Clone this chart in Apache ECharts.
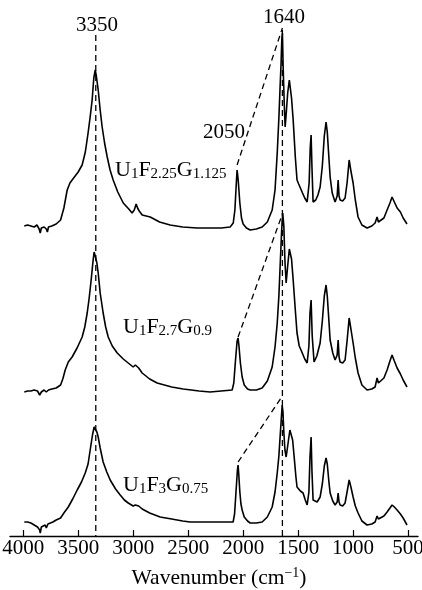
<!DOCTYPE html>
<html><head><meta charset="utf-8">
<script src="https://cdn.jsdelivr.net/npm/echarts@6/dist/echarts.min.js"></script>
<style>html,body{margin:0;padding:0;background:#fff}#c{width:422px;height:590px}</style>
</head><body><div id="c"></div>
<script>
// ---- data (wavenumber cm^-1, relative absorbance) ----
const sampleNames = ['U1F2.25G1.125', 'U1F2.7G0.9', 'U1F3G0.75'];
const sampleOffsets = [308, 145, 14];
const tickValues = [4000, 3500, 3000, 2500, 2000, 1500, 1000, 500];
const peakMarks = [3350, 1640, 2050];

const wn1 = [3990,3960,3930,3900,3875,3855,3845,3835,3810,3790,3780,3770,3740,3700,3660,3630,3600,3575,3555,3500,3464,3435,3410,3390,3373,3358,3345,3335,3318,3300,3282,3260,3236,3210,3182,3140,3090,3040,3010,2990,2973,2960,2945,2918,2845,2760,2664,2550,2418,2300,2200,2118,2090,2075,2062,2055,2045,2030,2015,2000,1970,1936,1880,1827,1780,1736,1710,1690,1675,1664,1655,1648,1643,1636,1625,1618,1608,1595,1580,1573,1560,1545,1525,1510,1495,1482,1460,1440,1418,1400,1390,1382,1374,1364,1340,1320,1300,1280,1262,1246,1235,1220,1209,1190,1164,1145,1136,1128,1118,1095,1073,1055,1036,1020,1000,980,955,920,873,830,800,782,770,755,720,691,665,646,625,600,570,545,510];
const abs1 = [2,3,2,1,3,-1,-5,0,1,-1,-4,1,2,4,8,20,38,45,48,56,63,76,95,112,128,150,158,152,138,118,101,85,71,58,48,36,25,19,15,18,24,20,17,13,11,6,3,1,0,0,0,1,5,18,45,58,48,25,10,4,0,-2,-1,1,6,18,38,75,110,141,165,190,195,160,120,101,115,135,148,146,130,108,70,48,44,45,35,30,26,45,80,93,60,26,28,33,41,62,92,106,96,70,51,35,26,32,48,32,28,27,30,45,68,57,45,28,11,3,0,2,5,11,6,6,10,18,25,31,26,20,16,10,4];

const wn2 = [3990,3960,3930,3900,3870,3850,3845,3835,3810,3790,3780,3770,3740,3700,3660,3640,3618,3590,3555,3510,3464,3440,3418,3400,3382,3365,3355,3345,3330,3318,3300,3273,3250,3227,3190,3145,3090,3045,3000,2980,2964,2950,2918,2850,2782,2650,2545,2400,2300,2200,2100,2085,2070,2055,2046,2038,2025,2009,1990,1960,1936,1880,1827,1780,1736,1710,1690,1675,1664,1650,1640,1630,1620,1609,1595,1580,1573,1560,1545,1525,1510,1490,1470,1455,1440,1418,1402,1392,1382,1372,1355,1330,1300,1280,1262,1246,1235,1220,1209,1185,1164,1145,1136,1128,1118,1095,1073,1055,1036,1020,1000,980,955,920,873,830,800,782,770,755,720,691,665,646,625,600,570,545,510];
const abs2 = [-1,0,0,1,0,-4,-6,-1,1,-1,-3,1,2,3,6,12,21,29,34,43,54,64,78,93,111,130,139,135,128,118,98,78,64,54,45,38,32,28,24,26,28,23,18,12,8,4,2,0,-1,0,1,8,30,50,53,45,28,14,6,2,1,1,3,10,24,44,68,95,124,160,178,165,130,108,125,142,143,132,111,80,58,45,40,38,32,28,45,78,91,55,29,35,48,70,95,106,95,70,51,38,31,36,51,34,29,28,31,50,73,62,48,33,18,6,1,2,4,13,8,8,13,21,30,36,30,23,17,11,4];

const wn3 = [3990,3960,3930,3900,3870,3850,3845,3835,3820,3800,3790,3775,3760,3730,3700,3660,3630,3590,3550,3509,3470,3436,3410,3391,3370,3355,3345,3330,3318,3300,3273,3240,3209,3160,3118,3080,3045,3000,2980,2964,2950,2918,2850,2755,2650,2550,2482,2300,2200,2091,2078,2065,2052,2046,2040,2030,2020,2009,1990,1960,1936,1880,1827,1780,1736,1710,1690,1675,1664,1655,1645,1638,1630,1620,1609,1590,1575,1564,1550,1536,1520,1510,1480,1455,1435,1418,1402,1392,1382,1374,1364,1327,1300,1280,1262,1246,1235,1220,1209,1185,1164,1145,1136,1128,1118,1095,1073,1055,1036,1020,1000,980,955,920,873,830,800,782,770,755,720,691,665,646,625,600,570,545,510];
const abs3 = [0,0,-1,-3,-5,-8,-11,-5,-4,-3,-6,-2,-2,0,2,4,9,15,23,32,40,49,58,72,87,95,93,90,85,74,60,50,42,33,27,22,19,16,17,19,16,13,9,5,3,1,0,0,0,0,8,30,52,57,48,30,18,12,5,1,-1,-1,0,5,15,30,49,66,85,100,117,110,90,72,65,80,92,94,82,65,45,35,31,29,22,17,30,65,85,50,22,20,25,38,56,64,58,40,29,21,17,20,29,20,17,16,19,30,42,35,25,16,9,1,-3,-2,0,6,3,4,6,10,14,17,15,12,8,4,-3];

// dashed guide lines: [wavenumber, absorbance incl. offset]
const guide3350 = [[3340, 501], [3340, 0]];
const guide1640 = [[1643, 506], [1643, 0]];
const guideDiag1 = [[2055, 371], [1643, 508]];
const guideDiag2 = [[2046, 199], [1640, 323]];
const guideDiag3 = [[2046, 74], [1643, 140]];

const traces = [[wn1, abs1], [wn2, abs2], [wn3, abs3]];
const FONT = '"Liberation Serif", "DejaVu Serif", serif';

const chart = echarts.init(document.getElementById('c'), null, {renderer: 'canvas'});
const series = traces.map(([w, a], i) => ({
  type: 'line', name: sampleNames[i], showSymbol: false, symbol: 'none',
  data: w.map((x, k) => [x, a[k] + sampleOffsets[i]]),
  lineStyle: {color: '#000', width: 1.6}, silent: true, z: 3
}));
[guide3350, guide1640, guideDiag1, guideDiag2, guideDiag3].forEach(g => {
  series.push({type: 'line', data: g, showSymbol: false, symbol: 'none', silent: true, z: 2,
    lineStyle: {color: '#000', width: 1.3, type: [6, 4]}});
});

function sampleRich(name) {
  const m = name.match(/^U(\d+)F([\d.]+)G([\d.]+)$/);
  return '{b|U}{s|' + m[1] + '}{b|F}{s|' + m[2] + '}{b|G}{s|' + m[3] + '}';
}
const richStyle = {
  b: {fontSize: 22, fontFamily: FONT, fill: '#000', lineHeight: 24, verticalAlign: 'middle'},
  s: {fontSize: 15, fontFamily: FONT, fill: '#000', lineHeight: 14, verticalAlign: 'bottom'}
};
const labelPos = [[115, 170], [123, 327], [123, 485]];
const graphics = sampleNames.map((n, i) => ({
  type: 'text', x: labelPos[i][0], y: labelPos[i][1],
  style: {text: sampleRich(n), rich: richStyle, fill: '#000', align: 'left', verticalAlign: 'middle'}
}));
const peakLabelPos = [[97, 25], [284, 17], [224, 132]];
peakMarks.forEach((p, i) => {
  graphics.push({type: 'text', x: peakLabelPos[i][0], y: peakLabelPos[i][1],
    style: {text: String(p), font: '21px ' + FONT, fill: '#000', align: 'center', verticalAlign: 'middle'}});
});
graphics.push({type: 'text', x: 219, y: 578,
  style: {text: '{b|Wavenumber (cm}{u|\u22121}{b|)}', align: 'center', verticalAlign: 'middle',
    rich: {b: {fontSize: 21.5, fontFamily: FONT, fill: '#000', lineHeight: 24},
           u: {fontSize: 14, fontFamily: FONT, fill: '#000', lineHeight: 24, verticalAlign: 'top'}}}});

chart.setOption({
  animation: false,
  backgroundColor: '#fff',
  grid: {left: 10, right: 4, top: 0, bottom: 54, containLabel: false, outerBoundsMode: 'none'},
  xAxis: {
    type: 'value', inverse: true, min: 410, max: 4120,
    axisLine: {show: true, lineStyle: {color: '#000', width: 1.3}},
    axisTick: {show: true, inside: true, length: 6, lineStyle: {color: '#000', width: 1.2}, customValues: tickValues},
    axisLabel: {color: '#000', fontSize: 21, fontFamily: FONT, margin: 2, customValues: tickValues,
      formatter: v => String(v), hideOverlap: false},
    splitLine: {show: false}
  },
  yAxis: {type: 'value', min: 0, max: 536, show: false},
  series: series,
  graphic: graphics
});
</script></body></html>
